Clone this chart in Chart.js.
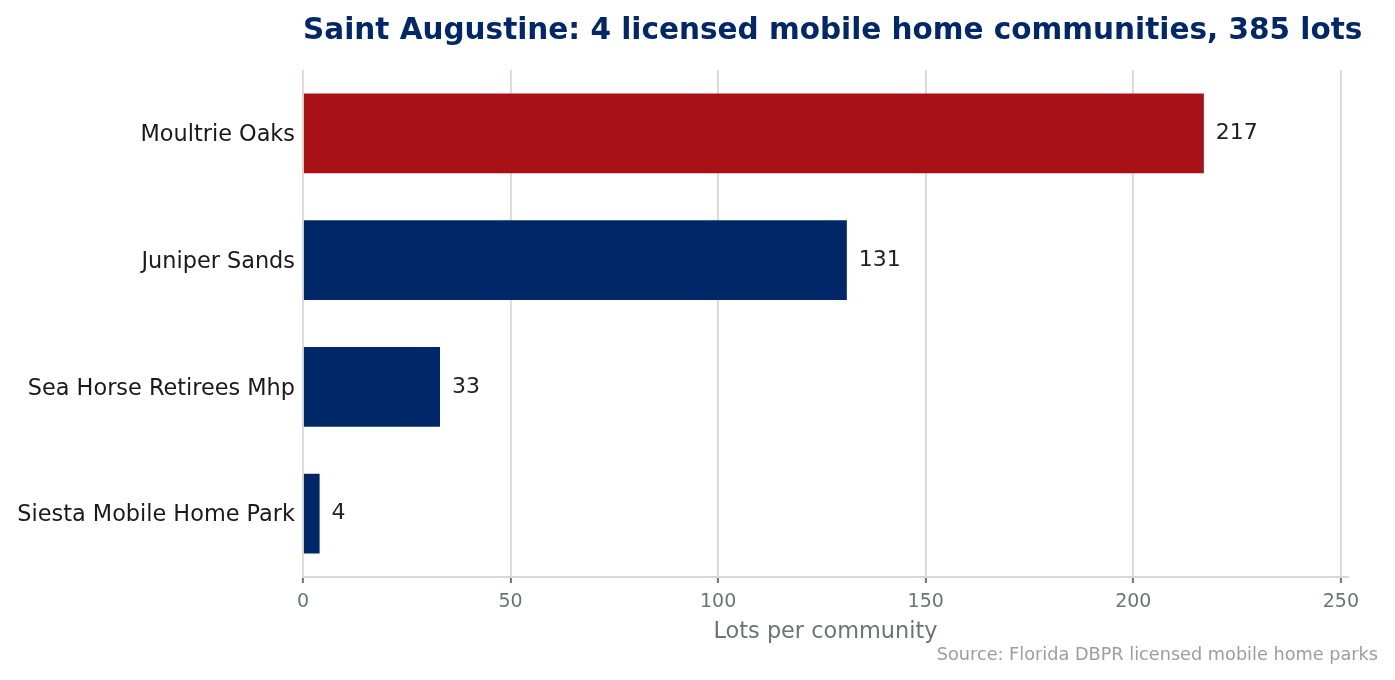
<!DOCTYPE html>
<html lang="en">
<head>
    <meta charset="UTF-8">
    <title>Saint Augustine mobile home communities</title>
    <script src="https://cdn.jsdelivr.net/npm/chart.js@4.4.1/dist/chart.umd.min.js"></script>
    <style>
        html, body { margin: 0; padding: 0; background: #ffffff; }
        #wrap { width: 1395px; height: 680px; }
    </style>
</head>
<body>
    <div id="wrap"><canvas id="chart"></canvas></div>
    <script>
        // Data
        const communities = ['Moultrie Oaks', 'Juniper Sands', 'Sea Horse Retirees Mhp', 'Siesta Mobile Home Park'];
        const lots = [217, 131, 33, 4];
        const barColors = ['#a81115', '#002868', '#002868', '#002868'];
        const xTicks = [0, 50, 100, 150, 200, 250];

        const titleText = 'Saint Augustine: 4 licensed mobile home communities, 385 lots';
        const sourceText = 'Source: Florida DBPR licensed mobile home parks';
        const FONT = "'DejaVu Sans', sans-serif";

        // value labels, title and source note
        const annotate = {
            id: 'annotate',
            afterDatasetsDraw(chart) {
                const ctx = chart.ctx;
                const area = chart.chartArea;
                const meta = chart.getDatasetMeta(0);
                ctx.save();
                ctx.font = '22px ' + FONT;
                ctx.fillStyle = '#222222';
                ctx.textAlign = 'left';
                ctx.textBaseline = 'middle';
                meta.data.forEach((bar, i) => {
                    ctx.fillText(String(lots[i]), bar.x + 12, bar.y);
                });

                ctx.font = 'bold 29.5px ' + FONT;
                ctx.fillStyle = '#002868';
                ctx.fillText(titleText, area.left, 31);

                ctx.font = '17.7px ' + FONT;
                ctx.fillStyle = '#9aa09c';
                ctx.textAlign = 'right';
                ctx.fillText(sourceText, 1378, 655);
                ctx.restore();
            }
        };

        new Chart(document.getElementById('chart'), {
            type: 'bar',
            data: {
                labels: communities,
                datasets: [{
                    data: lots,
                    backgroundColor: barColors,
                    borderWidth: 0,
                    barPercentage: 0.63,
                    categoryPercentage: 1.0
                }]
            },
            options: {
                indexAxis: 'y',
                responsive: true,
                maintainAspectRatio: false,
                animation: false,
                layout: { padding: { top: 70, right: 47, bottom: 0, left: 0 } },
                plugins: {
                    legend: { display: false },
                    tooltip: { enabled: false }
                },
                scales: {
                    x: {
                        type: 'linear',
                        min: 0,
                        max: Math.max(...lots) * 1.16,
                        afterBuildTicks(scale) {
                            scale.ticks = xTicks.map(v => ({ value: v }));
                        },
                        afterFit(scale) { scale.height = 103; },
                        grid: {
                            color: '#dcd8d0',
                            lineWidth: 1.8,
                            drawTicks: true,
                            tickLength: 6,
                            tickColor: '#6b7670',
                            tickWidth: 2
                        },
                        border: { display: true, color: '#dcd8d0', width: 2 },
                        ticks: {
                            color: '#6b7670',
                            font: { family: FONT, size: 19 },
                            padding: 8
                        },
                        title: {
                            display: true,
                            text: 'Lots per community',
                            color: '#6b7670',
                            font: { family: FONT, size: 22.4 },
                            padding: { top: 0, bottom: 34.6 }
                        }
                    },
                    y: {
                        afterFit(scale) { scale.width = 303; },
                        grid: { display: false, drawTicks: false },
                        border: { display: false },
                        ticks: {
                            color: '#1a1a1a',
                            font: { family: FONT, size: 22.4 },
                            padding: 8,
                            labelOffset: 2
                        }
                    }
                }
            },
            plugins: [annotate]
        });
    </script>
</body>
</html>
